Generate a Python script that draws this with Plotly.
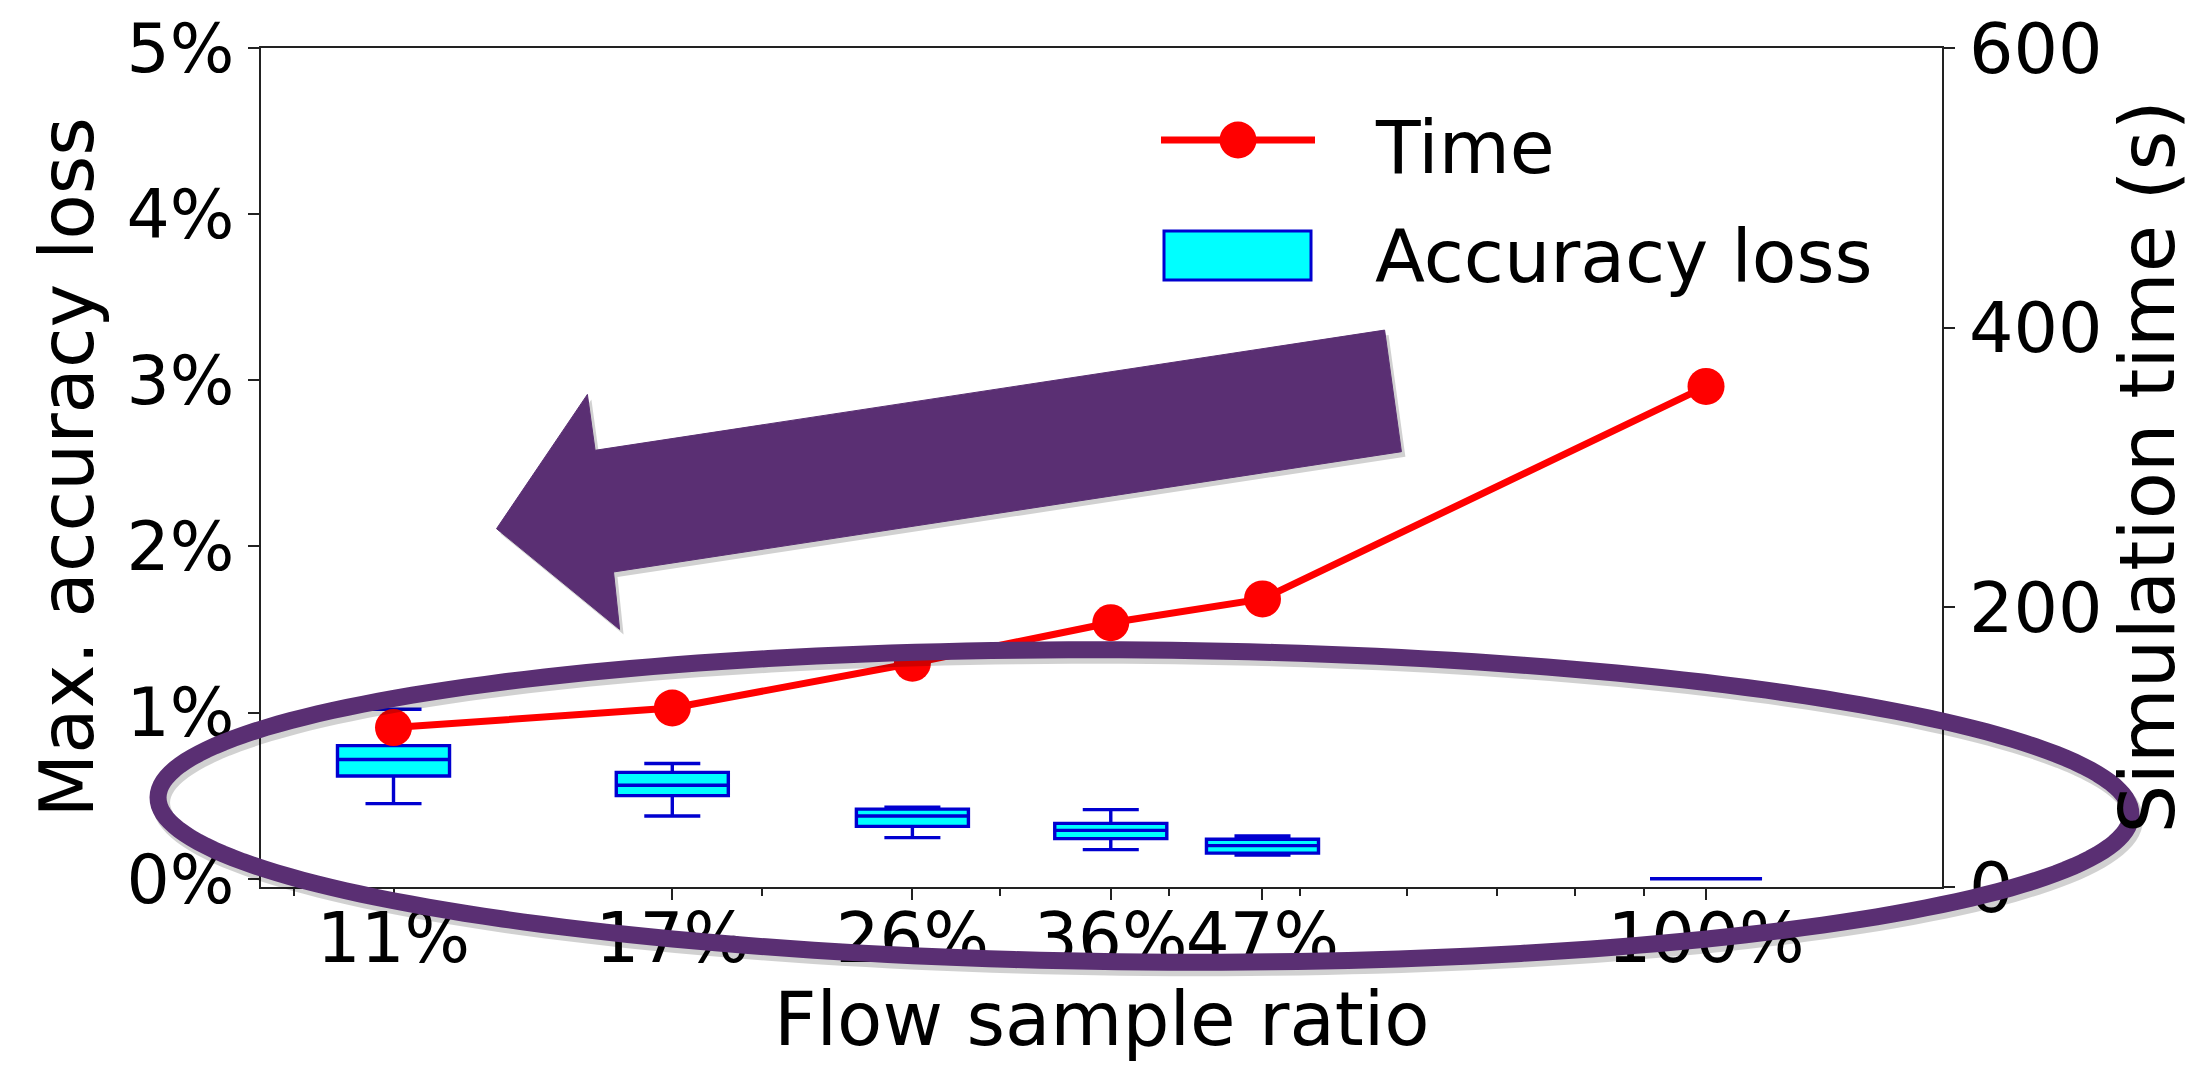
import numpy as np
import plotly.graph_objects as go

# Flow sample ratios and their tick labels
sample_ratio = [0.1066, 0.1715, 0.2583, 0.3623, 0.4693, 1.0]
ratio_labels = ["11%", "17%", "26%", "36%", "47%", "100%"]
minor_ratios = [0.09, 0.2, 0.3, 0.4, 0.5, 0.6, 0.7, 0.8, 0.9]

# Max. accuracy loss (%) box statistics per sample ratio
loss_low = [0.452, 0.377, 0.247, 0.175, 0.142, 0.0]
loss_q1 = [0.618, 0.500, 0.315, 0.241, 0.154, 0.0]
loss_med = [0.717, 0.562, 0.377, 0.291, 0.199, 0.0]
loss_q3 = [0.801, 0.640, 0.419, 0.333, 0.237, 0.0]
loss_high = [1.020, 0.693, 0.431, 0.416, 0.257, 0.0]
loss_ticks = [0, 1, 2, 3, 4, 5]
loss_tick_labels = ["0%", "1%", "2%", "3%", "4%", "5%"]

# Simulation time (s) per sample ratio
sim_time = [114, 128, 160, 189, 206, 358]
time_ticks = [0, 200, 400, 600]

W, H = 2193, 1065
PL, PR, PT, PB = 261, 1942, 48, 887          # plot area in pixels
FONT = "DejaVu Sans"
PURPLE = "#5a2f73"
BOX_LINE = "#0000d0"

log_x = np.log10(sample_ratio)
x_range = [-1.0704, 0.1748]
box_w = 0.083                                 # box width in decades


def paper(px, py):
    return (px - PL) / (PR - PL), (PB - py) / (PB - PT)


def path_from(points, close=True):
    pts = [paper(x, y) for x, y in points]
    d = "M" + " L".join(f"{x:.5f},{y:.5f}" for x, y in pts)
    return d + (" Z" if close else "")


fig = go.Figure()

fig.add_trace(go.Box(
    x=log_x, q1=loss_q1, median=loss_med, q3=loss_q3,
    lowerfence=loss_low, upperfence=loss_high,
    width=box_w, whiskerwidth=0.5, boxpoints=False,
    fillcolor="#00ffff", line=dict(color=BOX_LINE, width=3.4),
    name="Accuracy loss", showlegend=False, yaxis="y",
))

fig.add_trace(go.Scatter(
    x=log_x, y=sim_time, mode="lines+markers", yaxis="y2",
    line=dict(color="#ff0000", width=7),
    marker=dict(color="#ff0000", size=37),
    name="Time", showlegend=False,
))

axis_common = dict(
    showline=True, linecolor="#222", linewidth=2,
    ticks="outside", ticklen=11, tickwidth=1.6, tickcolor="#222",
    showgrid=False, zeroline=False, automargin=False,
)

fig.update_layout(
    width=W, height=H,
    margin=dict(l=PL, r=W - PR, t=PT, b=H - PB, pad=0),
    paper_bgcolor="white", plot_bgcolor="white",
    font=dict(family=FONT, color="black"),
    xaxis=dict(
        **axis_common, mirror=True, range=x_range,
        tickmode="array", tickvals=log_x, ticktext=ratio_labels,
        tickangle=0, ticklabelstandoff=-21,
        tickfont=dict(size=69, family=FONT),
        minor=dict(tickmode="array", tickvals=np.log10(minor_ratios),
                   ticks="outside", ticklen=7, tickwidth=1.6,
                   tickcolor="#222", showgrid=False),
    ),
    yaxis=dict(
        **axis_common, range=[-0.05, 5], tickmode="array",
        tickvals=loss_ticks, ticktext=loss_tick_labels,
        tickfont=dict(size=68, family=FONT),
    ),
    yaxis2=dict(
        **axis_common, overlaying="y", side="right", range=[0, 600],
        tickmode="array", tickvals=time_ticks,
        tickfont=dict(size=70, family=FONT),
    ),
    showlegend=False,
)

annotations = [
    dict(text="Flow sample ratio", x=0.5, y=paper(0, 1019)[1],
         xanchor="center", yanchor="middle", font=dict(size=74)),
    dict(text="Max. accuracy loss", x=paper(66, 0)[0], y=0.5, textangle=-90,
         xanchor="center", yanchor="middle", font=dict(size=74)),
    dict(text="Simulation time (s)", x=paper(2147, 0)[0], y=0.5, textangle=-90,
         xanchor="center", yanchor="middle", font=dict(size=77)),
    dict(text="Time", x=paper(1373, 0)[0], y=paper(0, 147)[1],
         xanchor="left", yanchor="middle", font=dict(size=73)),
    dict(text="Accuracy loss", x=paper(1373, 0)[0], y=paper(0, 256)[1],
         xanchor="left", yanchor="middle", font=dict(size=73)),
]
for a in annotations:
    a.update(xref="paper", yref="paper", showarrow=False)
    a["font"] = dict(family=FONT, color="black", **a["font"])
fig.update_layout(annotations=annotations)

shapes = []

# Legend keys
lx0, ly0 = paper(1161, 140)
lx1, _ = paper(1315, 140)
shapes.append(dict(type="line", xref="paper", yref="paper",
                   x0=lx0, x1=lx1, y0=ly0, y1=ly0,
                   line=dict(color="#ff0000", width=7)))
cx0, cy0 = paper(1238 - 18.5, 140 - 18.5)
cx1, cy1 = paper(1238 + 18.5, 140 + 18.5)
shapes.append(dict(type="circle", xref="paper", yref="paper",
                   x0=cx0, x1=cx1, y0=cy1, y1=cy0,
                   fillcolor="#ff0000", line=dict(width=0)))
rx0, ry0 = paper(1164, 231)
rx1, ry1 = paper(1311, 280)
shapes.append(dict(type="rect", xref="paper", yref="paper",
                   x0=rx0, x1=rx1, y0=ry1, y1=ry0,
                   fillcolor="#00ffff", line=dict(color=BOX_LINE, width=3)))

# Callout: block arrow pointing toward smaller sample ratios
arrow_pts = [(1384.6, 330.1), (1401.4, 451.7), (613.5, 572.0), (619.6, 629.4),
             (496.5, 528.7), (587.4, 394.4), (595.1, 450.3)]
shadow_pts = [(x + 4, y + 5) for x, y in arrow_pts]
shapes.append(dict(type="path", xref="paper", yref="paper",
                   path=path_from(shadow_pts), fillcolor="rgba(0,0,0,0.18)",
                   line=dict(width=0), layer="above"))
shapes.append(dict(type="path", xref="paper", yref="paper",
                   path=path_from(arrow_pts), fillcolor=PURPLE,
                   line=dict(color=PURPLE, width=1), layer="above"))

# Callout: ellipse around the accuracy-loss boxes
t = np.linspace(0, 2 * np.pi, 241)
ecx, ecy, erx, ery = 1144.5, 806.0, 986.5, 156.0
rot = np.deg2rad(0.5)
ex = ecx + erx * np.cos(t) * np.cos(rot) - ery * np.sin(t) * np.sin(rot)
ey = ecy + erx * np.cos(t) * np.sin(rot) + ery * np.sin(t) * np.cos(rot)
ell = list(zip(ex, ey))
shapes.append(dict(type="path", xref="paper", yref="paper",
                   path=path_from([(x + 3, y + 5) for x, y in ell]),
                   line=dict(color="rgba(0,0,0,0.18)", width=18), layer="above"))
shapes.append(dict(type="path", xref="paper", yref="paper",
                   path=path_from(ell), line=dict(color=PURPLE, width=17),
                   layer="above"))

fig.update_layout(shapes=shapes)

fig.write_html("out.html")
